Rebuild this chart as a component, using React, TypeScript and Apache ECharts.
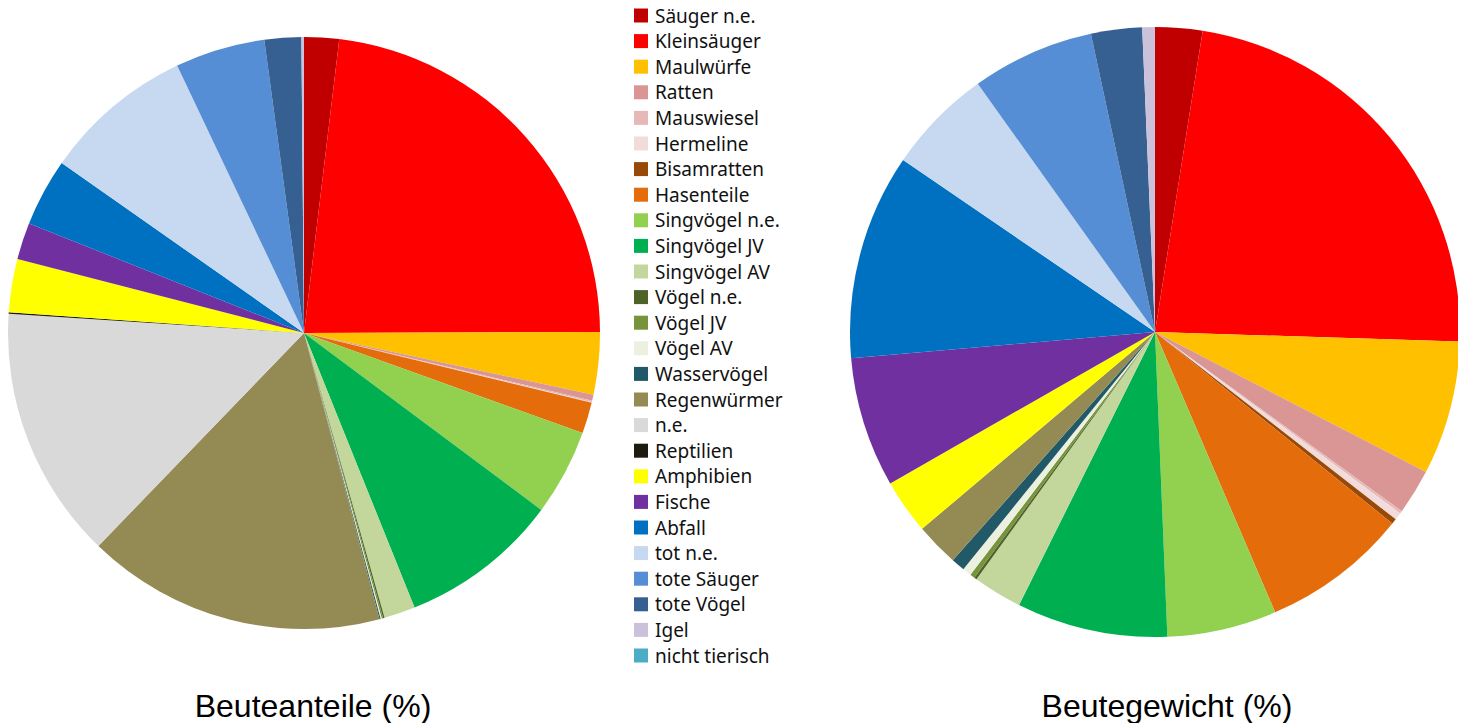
import React, { useEffect, useRef } from "react";
import * as echarts from "echarts";

const categories = [
  "Säuger n.e.", "Kleinsäuger", "Maulwürfe", "Ratten", "Mauswiesel", "Hermeline",
  "Bisamratten", "Hasenteile", "Singvögel n.e.", "Singvögel JV", "Singvögel AV",
  "Vögel n.e.", "Vögel JV", "Vögel AV", "Wasservögel", "Regenwürmer", "n.e.",
  "Reptilien", "Amphibien", "Fische", "Abfall", "tot n.e.", "tote Säuger",
  "tote Vögel", "Igel", "nicht tierisch",
];

const colors = [
  "#C00000", "#FF0000", "#FFC000", "#D99694", "#E6B9B8", "#F2DCDB",
  "#984807", "#E46C0A", "#92D050", "#00B050", "#C3D69B",
  "#4F6228", "#77933C", "#EBF1DE", "#215968", "#948A54", "#D9D9D9",
  "#1D1B10", "#FFFF00", "#7030A0", "#0070C0", "#C6D9F1", "#558ED5",
  "#376092", "#CCC1DA", "#4BACC6",
];

// Beuteanteile (%)
const anteile = [
  1.9, 23.0, 3.4, 0.33, 0.08, 0.03,
  0, 1.7, 4.7, 8.7, 1.7,
  0.08, 0.08, 0.06, 0.06, 16.3, 13.8,
  0.08, 2.9, 2.0, 3.7, 8.2, 4.9,
  2.0, 0.14, 0,
];

// Beutegewicht (%)
const gewicht = [
  2.5, 23.0, 7.1, 2.4, 0.14, 0.39,
  0.28, 7.75, 5.8, 8.0, 2.6,
  0.14, 0.25, 0.47, 0.72, 2.3, 0,
  0, 2.9, 6.9, 10.9, 5.6, 6.5,
  2.7, 0.67, 0,
];

const titles = ["Beuteanteile (%)", "Beutegewicht (%)"];

export default function App() {
  const ref = useRef<HTMLDivElement>(null);
  useEffect(() => {
    if (!ref.current) return;
    const chart = echarts.init(ref.current, null, { renderer: "svg" });
    const mk = (vals: number[]) =>
      categories.map((name, i) => ({ name, value: vals[i], itemStyle: { color: colors[i] } }));
    const pieBase = {
      type: "pie" as const,
      startAngle: 90,
      clockwise: true,
      label: { show: false },
      labelLine: { show: false },
      emphasis: { disabled: true },
      itemStyle: { borderWidth: 0 },
      minAngle: 0,
      avoidLabelOverlap: false,
    };
    chart.setOption({
      animation: false,
      color: colors,
      legend: {
        orient: "vertical",
        left: 629,
        top: 1,
        height: 720,
        data: categories,
        icon: "rect",
        itemWidth: 14,
        itemHeight: 14,
        itemGap: 6.6,
        selectedMode: false,
        textStyle: { fontFamily: "Noto Sans", fontSize: 19, color: "#111", lineHeight: 19, padding: [0, 0, 0, 2] },
      },
      series: [
        { ...pieBase, name: titles[0], center: [304, 333], radius: 296, data: mk(anteile) },
        { ...pieBase, name: titles[1], center: [1155, 332], radius: 305, data: mk(gewicht) },
      ],
      graphic: [
        {
          type: "text",
          x: 313,
          y: 706,
          style: { text: titles[0], fontFamily: "Liberation Sans", fontSize: 32, fill: "#000", align: "center", verticalAlign: "middle" },
        },
        {
          type: "text",
          x: 1167,
          y: 706,
          style: { text: titles[1], fontFamily: "Liberation Sans", fontSize: 32, fill: "#000", align: "center", verticalAlign: "middle" },
        },
      ],
    });
    return () => chart.dispose();
  }, []);
  return <div ref={ref} style={{ width: 1458, height: 723, position: "absolute", left: 0, top: 0 }} />;
}
